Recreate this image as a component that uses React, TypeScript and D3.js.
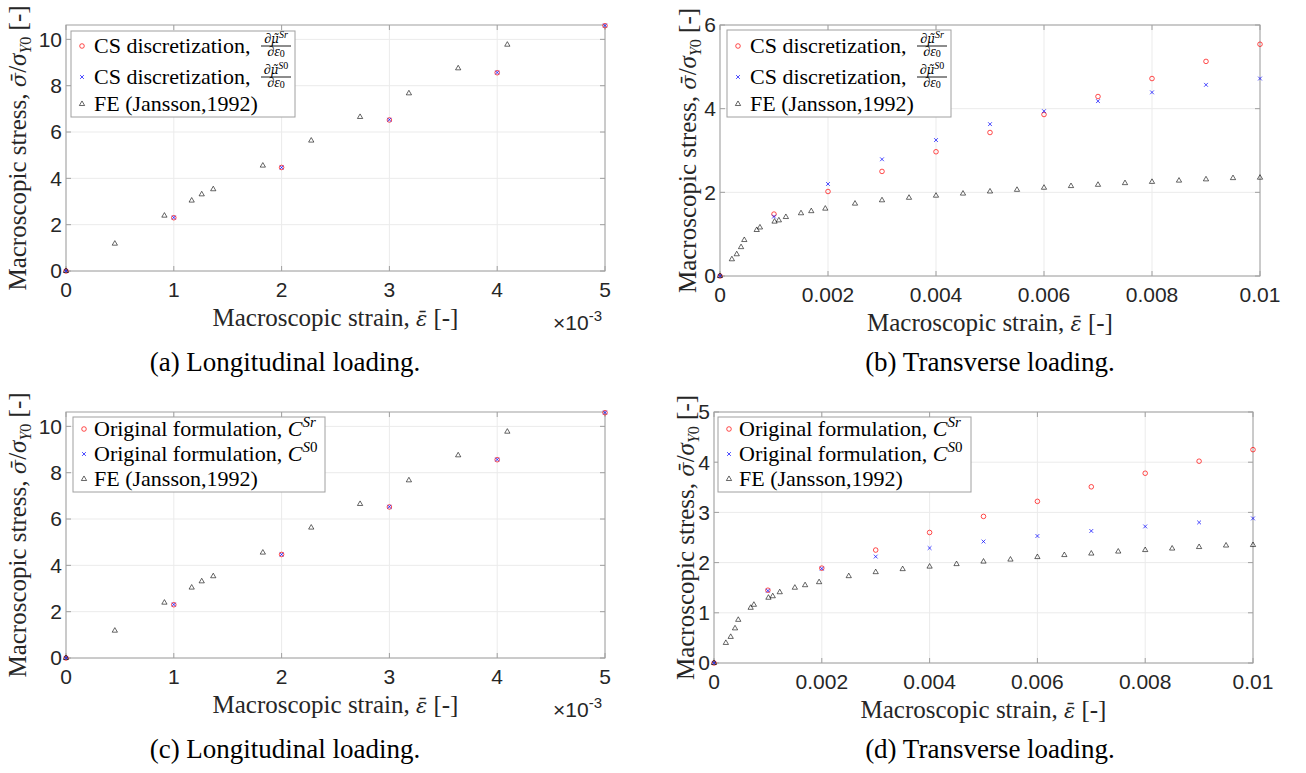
import React from 'react';
import * as d3 from 'd3';

const SERIF = "'Liberation Serif', 'Times New Roman', serif";
const SANS = "'Liberation Sans', Arial, sans-serif";
const ACC = "'DejaVu Serif', serif";

// ---------- Data ----------
// Longitudinal loading (panels a, c)
const longStrainCS = [0, 0.001, 0.002, 0.003, 0.004, 0.005];
const longStressSr = [0, 2.3, 4.47, 6.52, 8.56, 10.59];
const longStressS0 = [0, 2.31, 4.47, 6.53, 8.57, 10.6];
const longStrainFE = [0, 0.000453, 0.000913, 0.001166, 0.001259, 0.001366, 0.001826, 0.002275, 0.002728, 0.003181, 0.003638, 0.004094];
const longStressFE = [0, 1.18, 2.39, 3.04, 3.31, 3.53, 4.55, 5.63, 6.65, 7.67, 8.75, 9.77];

// Transverse loading (panels b, d)
const transStrainCS = [0, 0.001, 0.002, 0.003, 0.004, 0.005, 0.006, 0.007, 0.008, 0.009, 0.01];
const transStressCSr = [0, 1.48, 2.02, 2.5, 2.97, 3.43, 3.86, 4.29, 4.72, 5.13, 5.54];
const transStressCS0 = [0, 1.42, 2.2, 2.79, 3.25, 3.63, 3.94, 4.18, 4.39, 4.57, 4.72];
const transStressOrigSr = [0, 1.45, 1.89, 2.25, 2.6, 2.92, 3.22, 3.51, 3.78, 4.02, 4.25];
const transStressOrigS0 = [0, 1.44, 1.88, 2.12, 2.29, 2.42, 2.53, 2.63, 2.72, 2.8, 2.88];
const transStrainFE = [0, 0.00022, 0.00031, 0.00039, 0.00045, 0.00068, 0.00074, 0.00101, 0.00109, 0.00122, 0.0015, 0.00169, 0.00195, 0.0025, 0.003, 0.0035, 0.004, 0.0045, 0.005, 0.0055, 0.006, 0.0065, 0.007, 0.0075, 0.008, 0.0085, 0.009, 0.0095, 0.01];
const transStressFE = [0, 0.4, 0.52, 0.69, 0.86, 1.1, 1.16, 1.3, 1.33, 1.41, 1.5, 1.55, 1.61, 1.73, 1.81, 1.87, 1.92, 1.97, 2.02, 2.06, 2.11, 2.15, 2.18, 2.22, 2.25, 2.28, 2.31, 2.34, 2.35];

// Ticks
const longXTicks = [0, 0.001, 0.002, 0.003, 0.004, 0.005];
const longXTickLabels = ['0', '1', '2', '3', '4', '5'];
const longYTicks = [0, 2, 4, 6, 8, 10];
const transXTicks = [0, 0.002, 0.004, 0.006, 0.008, 0.01];
const transXTickLabels = ['0', '0.002', '0.004', '0.006', '0.008', '0.01'];
const transYTicksB = [0, 2, 4, 6];
const transYTicksD = [0, 1, 2, 3, 4, 5];

const titles = ['(a) Longitudinal loading.', '(b) Transverse loading.', '(c) Longitudinal loading.', '(d) Transverse loading.'];

type Kind = 'circle' | 'cross' | 'tri';

const COLORS: Record<Kind, string> = { circle: '#ff0000', cross: '#0000ff', tri: '#000000' };

function Marker({ kind, cx, cy }: { kind: Kind; cx: number; cy: number }) {
  if (kind === 'circle') {
    return <circle cx={cx} cy={cy} r={2.3} fill="none" stroke={COLORS.circle} strokeWidth={0.7} />;
  }
  if (kind === 'cross') {
    const s = 1.9;
    return (
      <path d={`M${cx - s},${cy - s}L${cx + s},${cy + s}M${cx - s},${cy + s}L${cx + s},${cy - s}`} stroke={COLORS.cross} strokeWidth={0.7} fill="none" />
    );
  }
  const p = d3.symbol(d3.symbolTriangle, 12)() as string;
  return <path d={p} transform={`translate(${cx},${cy})`} fill="none" stroke={COLORS.tri} strokeWidth={0.6} />;
}

function CSLabel({ x, y, sup }: { x: number; y: number; sup: 'r' | '0' }) {
  const fx = x + 167;
  return (
    <g fontFamily={SERIF}>
      <text x={x} y={y} dy="0.33em" fontSize={22} fill="#000">CS discretization,</text>
      <text x={fx + 15} y={y - 3} textAnchor="middle" fontSize={14} fill="#000">
        ∂<tspan fontStyle="italic" fontFamily={ACC} fontSize={12}>μ̃</tspan>
        <tspan fontSize={10} dy={-5} fontStyle="italic">S</tspan>
        <tspan fontSize={10} fontStyle={sup === 'r' ? 'italic' : 'normal'}>{sup}</tspan>
      </text>
      <line x1={fx} x2={fx + 30} y1={y} y2={y} stroke="#000" strokeWidth={0.9} />
      <text x={fx + 15} y={y + 10} textAnchor="middle" fontSize={14} fill="#000">
        ∂<tspan fontStyle="italic">ε</tspan>
        <tspan fontSize={10} dy={1}>0</tspan>
      </text>
    </g>
  );
}

function OrigLabel({ x, y, sup }: { x: number; y: number; sup: 'r' | '0' }) {
  return (
    <text x={x} y={y} dy="0.33em" fontSize={22} fontFamily={SERIF} fill="#000">
      Original formulation, <tspan fontStyle="italic">C</tspan>
      <tspan fontSize={15} dy={-9} fontStyle="italic">S</tspan>
      <tspan fontSize={15} fontStyle={sup === 'r' ? 'italic' : 'normal'}>{sup}</tspan>
    </text>
  );
}

function FELabel({ x, y }: { x: number; y: number }) {
  return (
    <text x={x} y={y} dy="0.33em" fontSize={22} fontFamily={SERIF} fill="#000">FE (Jansson,1992)</text>
  );
}

type Series = { xs: number[]; ys: number[]; kind: Kind };

type PanelProps = {
  x0: number; x1: number; y0: number; y1: number;
  xMax: number; yMax: number;
  xTicks: number[]; xTickLabels: string[]; yTicks: number[];
  series: Series[];
  legend: { x: number; y: number; w: number; h: number; rows: number[]; type: 'cs' | 'orig' };
  title: string; titleX: number; titleY: number;
  xLabelY: number; yLabelX: number;
  exp: boolean;
};

function Panel(p: PanelProps) {
  const xs = d3.scaleLinear().domain([0, p.xMax]).range([p.x0, p.x1]);
  const ys = d3.scaleLinear().domain([0, p.yMax]).range([p.y1, p.y0]);
  const axisColor = '#a0a0a0';
  const gridColor = '#ebebeb';
  const tl = 5;
  const cx = (p.x0 + p.x1) / 2;
  const cy = (p.y0 + p.y1) / 2;
  const L = p.legend;
  return (
    <g>
      {/* grid */}
      {p.xTicks.map((t, i) => (
        <line key={'gx' + i} x1={xs(t)} x2={xs(t)} y1={p.y0} y2={p.y1} stroke={gridColor} strokeWidth={1} />
      ))}
      {p.yTicks.map((t, i) => (
        <line key={'gy' + i} x1={p.x0} x2={p.x1} y1={ys(t)} y2={ys(t)} stroke={gridColor} strokeWidth={1} />
      ))}
      {/* box */}
      <rect x={p.x0} y={p.y0} width={p.x1 - p.x0} height={p.y1 - p.y0} fill="none" stroke={axisColor} strokeWidth={1} />
      {/* ticks */}
      {p.xTicks.map((t, i) => (
        <g key={'tx' + i}>
          <line x1={xs(t)} x2={xs(t)} y1={p.y1} y2={p.y1 - tl} stroke={axisColor} />
          <line x1={xs(t)} x2={xs(t)} y1={p.y0} y2={p.y0 + tl} stroke={axisColor} />
          <text x={xs(t)} y={p.y1 + 19} dy="0.35em" textAnchor="middle" fontFamily={SANS} fontSize={21} fill="#262626">{p.xTickLabels[i]}</text>
        </g>
      ))}
      {p.yTicks.map((t, i) => (
        <g key={'ty' + i}>
          <line x1={p.x0} x2={p.x0 + tl} y1={ys(t)} y2={ys(t)} stroke={axisColor} />
          <line x1={p.x1} x2={p.x1 - tl} y1={ys(t)} y2={ys(t)} stroke={axisColor} />
          <text x={p.x0 - 4} y={ys(t)} dy="0.35em" textAnchor="end" fontFamily={SANS} fontSize={21} fill="#262626">{t}</text>
        </g>
      ))}
      {p.exp && (
        <text x={p.x1 - 3} y={p.y1 + 59} textAnchor="end" fontFamily={SANS} fontSize={21} fill="#262626">
          ×10<tspan fontSize={15} dy={-9}>-3</tspan>
        </text>
      )}
      {/* data */}
      {p.series.map((s, si) => (
        <g key={'s' + si}>
          {s.xs.map((xv, i) => (
            <Marker key={i} kind={s.kind} cx={xs(xv)} cy={ys(s.ys[i])} />
          ))}
        </g>
      ))}
      {/* legend */}
      <rect x={L.x} y={L.y} width={L.w} height={L.h} fill="#fff" stroke={axisColor} strokeWidth={1} />
      {(['circle', 'cross', 'tri'] as Kind[]).map((k, i) => (
        <Marker key={'lm' + i} kind={k} cx={L.x + 11} cy={L.rows[i]} />
      ))}
      {L.type === 'cs' ? (
        <>
          <CSLabel x={L.x + 23} y={L.rows[0]} sup="r" />
          <CSLabel x={L.x + 23} y={L.rows[1]} sup="0" />
        </>
      ) : (
        <>
          <OrigLabel x={L.x + 21} y={L.rows[0]} sup="r" />
          <OrigLabel x={L.x + 21} y={L.rows[1]} sup="0" />
        </>
      )}
      <FELabel x={L.x + (L.type === 'cs' ? 23 : 21)} y={L.rows[2]} />
      {/* axis labels */}
      <text x={cx} y={p.xLabelY} dy="0.33em" textAnchor="middle" fontFamily={SERIF} fontSize={25} fill="#262626">
        Macroscopic strain, <tspan fontStyle="italic" fontFamily={ACC} fontSize={21}>ε̄</tspan> [-]
      </text>
      <text transform={`translate(${p.yLabelX},${cy}) rotate(-90)`} dy="0.33em" textAnchor="middle" fontFamily={SERIF} fontSize={25} fill="#262626">
        Macroscopic stress, <tspan fontStyle="italic" fontFamily={ACC} fontSize={21}>σ̄</tspan>/<tspan fontStyle="italic">σ</tspan>
        <tspan fontSize={16} dy={5} fontStyle="italic">Y</tspan><tspan fontSize={16}>0</tspan>
        <tspan dy={-5}> [-]</tspan>
      </text>
      {/* caption */}
      <text x={p.titleX} y={p.titleY} dy="0.33em" textAnchor="middle" fontFamily={SERIF} fontSize={27} fill="#000">{p.title}</text>
    </g>
  );
}

export default function App() {
  const W = 1306;
  const H = 773;
  return (
    <div style={{ position: 'absolute', left: 0, top: 0 }}>
      <svg width={W} height={H} viewBox={`0 0 ${W} ${H}`} style={{ display: 'block', background: '#fff' }}>
        <Panel
          x0={66} x1={605} y0={25} y1={271} xMax={0.005} yMax={10.62}
          xTicks={longXTicks} xTickLabels={longXTickLabels} yTicks={longYTicks}
          series={[
            { xs: longStrainCS, ys: longStressSr, kind: 'circle' },
            { xs: longStrainCS, ys: longStressS0, kind: 'cross' },
            { xs: longStrainFE, ys: longStressFE, kind: 'tri' },
          ]}
          legend={{ x: 71, y: 31, w: 224, h: 86, rows: [46, 77, 104], type: 'cs' }}
          title={titles[0]} titleX={285} titleY={362} xLabelY={318} yLabelX={18} exp={true}
        />
        <Panel
          x0={720} x1={1260} y0={25} y1={276} xMax={0.01} yMax={6}
          xTicks={transXTicks} xTickLabels={transXTickLabels} yTicks={transYTicksB}
          series={[
            { xs: transStrainCS, ys: transStressCSr, kind: 'circle' },
            { xs: transStrainCS, ys: transStressCS0, kind: 'cross' },
            { xs: transStrainFE, ys: transStressFE, kind: 'tri' },
          ]}
          legend={{ x: 727, y: 30, w: 224, h: 87, rows: [46, 77, 104], type: 'cs' }}
          title={titles[1]} titleX={990} titleY={362} xLabelY={323} yLabelX={688} exp={false}
        />
        <Panel
          x0={66} x1={605} y0={412} y1={658} xMax={0.005} yMax={10.62}
          xTicks={longXTicks} xTickLabels={longXTickLabels} yTicks={longYTicks}
          series={[
            { xs: longStrainCS, ys: longStressSr, kind: 'circle' },
            { xs: longStrainCS, ys: longStressS0, kind: 'cross' },
            { xs: longStrainFE, ys: longStressFE, kind: 'tri' },
          ]}
          legend={{ x: 73, y: 417, w: 252, h: 75, rows: [429, 454, 479], type: 'orig' }}
          title={titles[2]} titleX={285} titleY={749} xLabelY={705} yLabelX={18} exp={true}
        />
        <Panel
          x0={714} x1={1253} y0={412} y1={663} xMax={0.01} yMax={5}
          xTicks={transXTicks} xTickLabels={transXTickLabels} yTicks={transYTicksD}
          series={[
            { xs: transStrainCS, ys: transStressOrigSr, kind: 'circle' },
            { xs: transStrainCS, ys: transStressOrigS0, kind: 'cross' },
            { xs: transStrainFE, ys: transStressFE, kind: 'tri' },
          ]}
          legend={{ x: 718, y: 417, w: 253, h: 75, rows: [429, 454, 479], type: 'orig' }}
          title={titles[3]} titleX={990} titleY={749} xLabelY={710} yLabelX={686} exp={false}
        />
      </svg>
    </div>
  );
}
